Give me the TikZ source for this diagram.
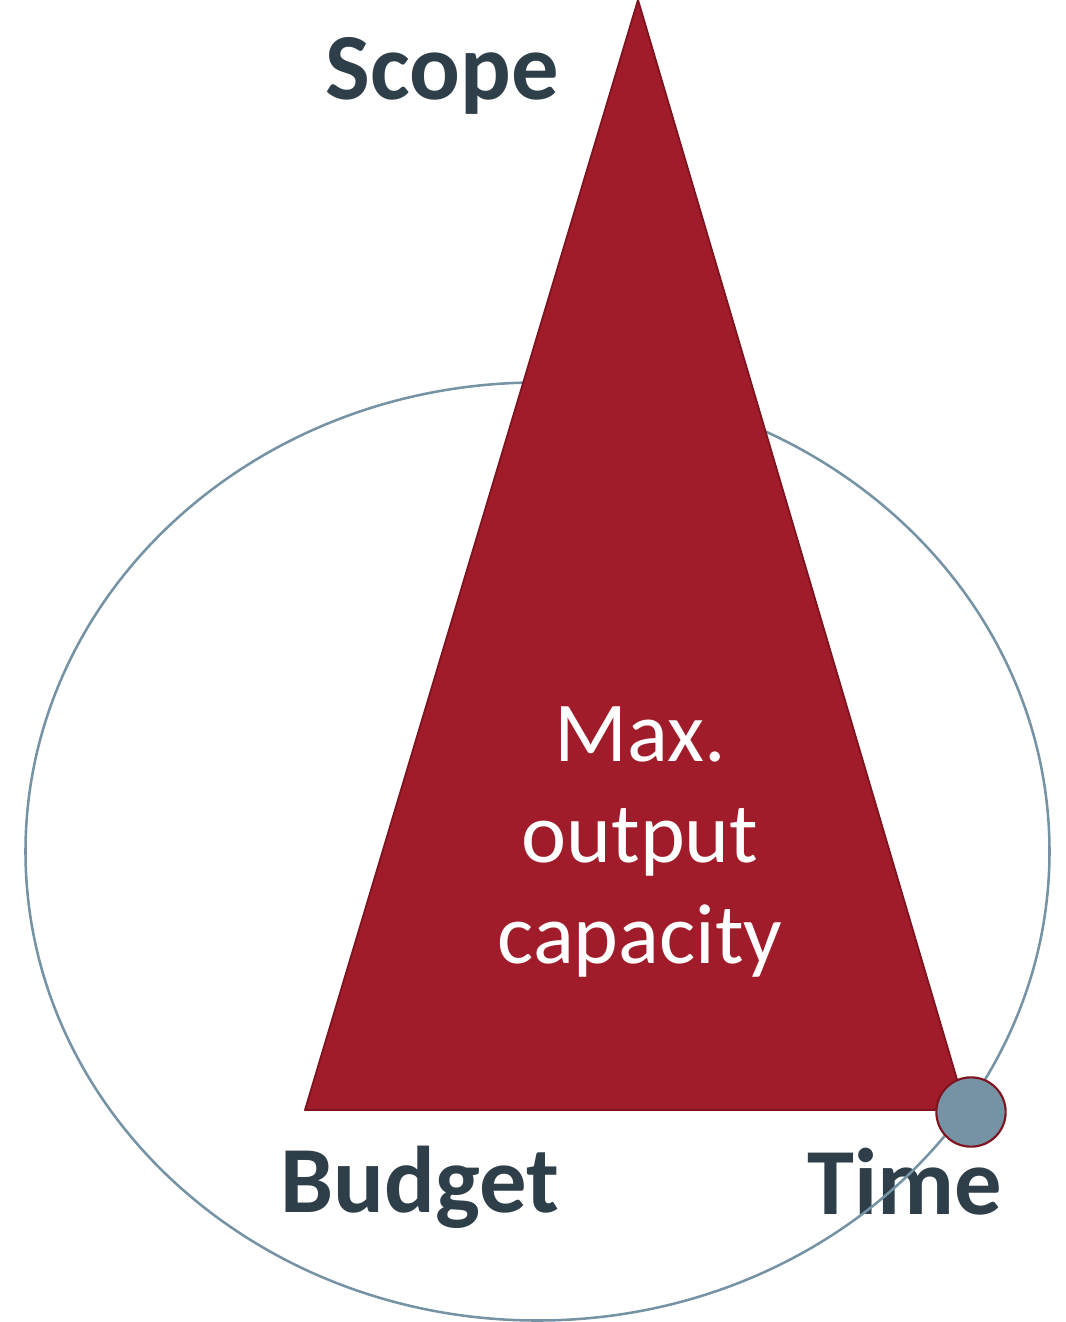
\documentclass[tikz,border=0pt]{standalone}
\usepackage{fontspec}
\setmainfont{Carlito}

\definecolor{wine}{HTML}{A11C2A}
\definecolor{darkwine}{HTML}{7F1420}
\definecolor{steel}{HTML}{7593A4}
\definecolor{slate}{HTML}{2E3F4A}

\tikzset{
  corner/.style={text=slate, anchor=base, font=\bfseries\fontsize{71}{82}\selectfont, inner sep=0pt},
  ring/.style={draw=steel, line width=1.9pt},
  wedge/.style={fill=wine, draw=darkwine, line width=1.4pt, line join=round},
  dot/.style={circle, minimum size=52pt, inner sep=0pt, fill=steel, draw=darkwine, line width=1.6pt}
}

\begin{document}
\begin{tikzpicture}[x=0.75pt,y=-0.75pt]
\useasboundingbox (0,0) rectangle (1066,1322);

\node[corner] (scope) at (442,99) {Scope};
\node[corner] (budget) at (420,1212) {Budget};
\node[corner] (time) at (905,1214) {Time};

\draw[ring] (537.5,851.5) ellipse (512 and 469);

\coordinate (apex) at (638,0);
\coordinate (left) at (305,1110);
\coordinate (right) at (966,1110);
\filldraw[wedge] (apex) -- (left) -- (right) -- cycle;

\node[text=white, align=center, font=\fontsize{64}{76}\selectfont] (capacity) at (640,842) {Max.\\output\\capacity};

\node[dot] (timedot) at (971,1112) {};

\end{tikzpicture}
\end{document}
